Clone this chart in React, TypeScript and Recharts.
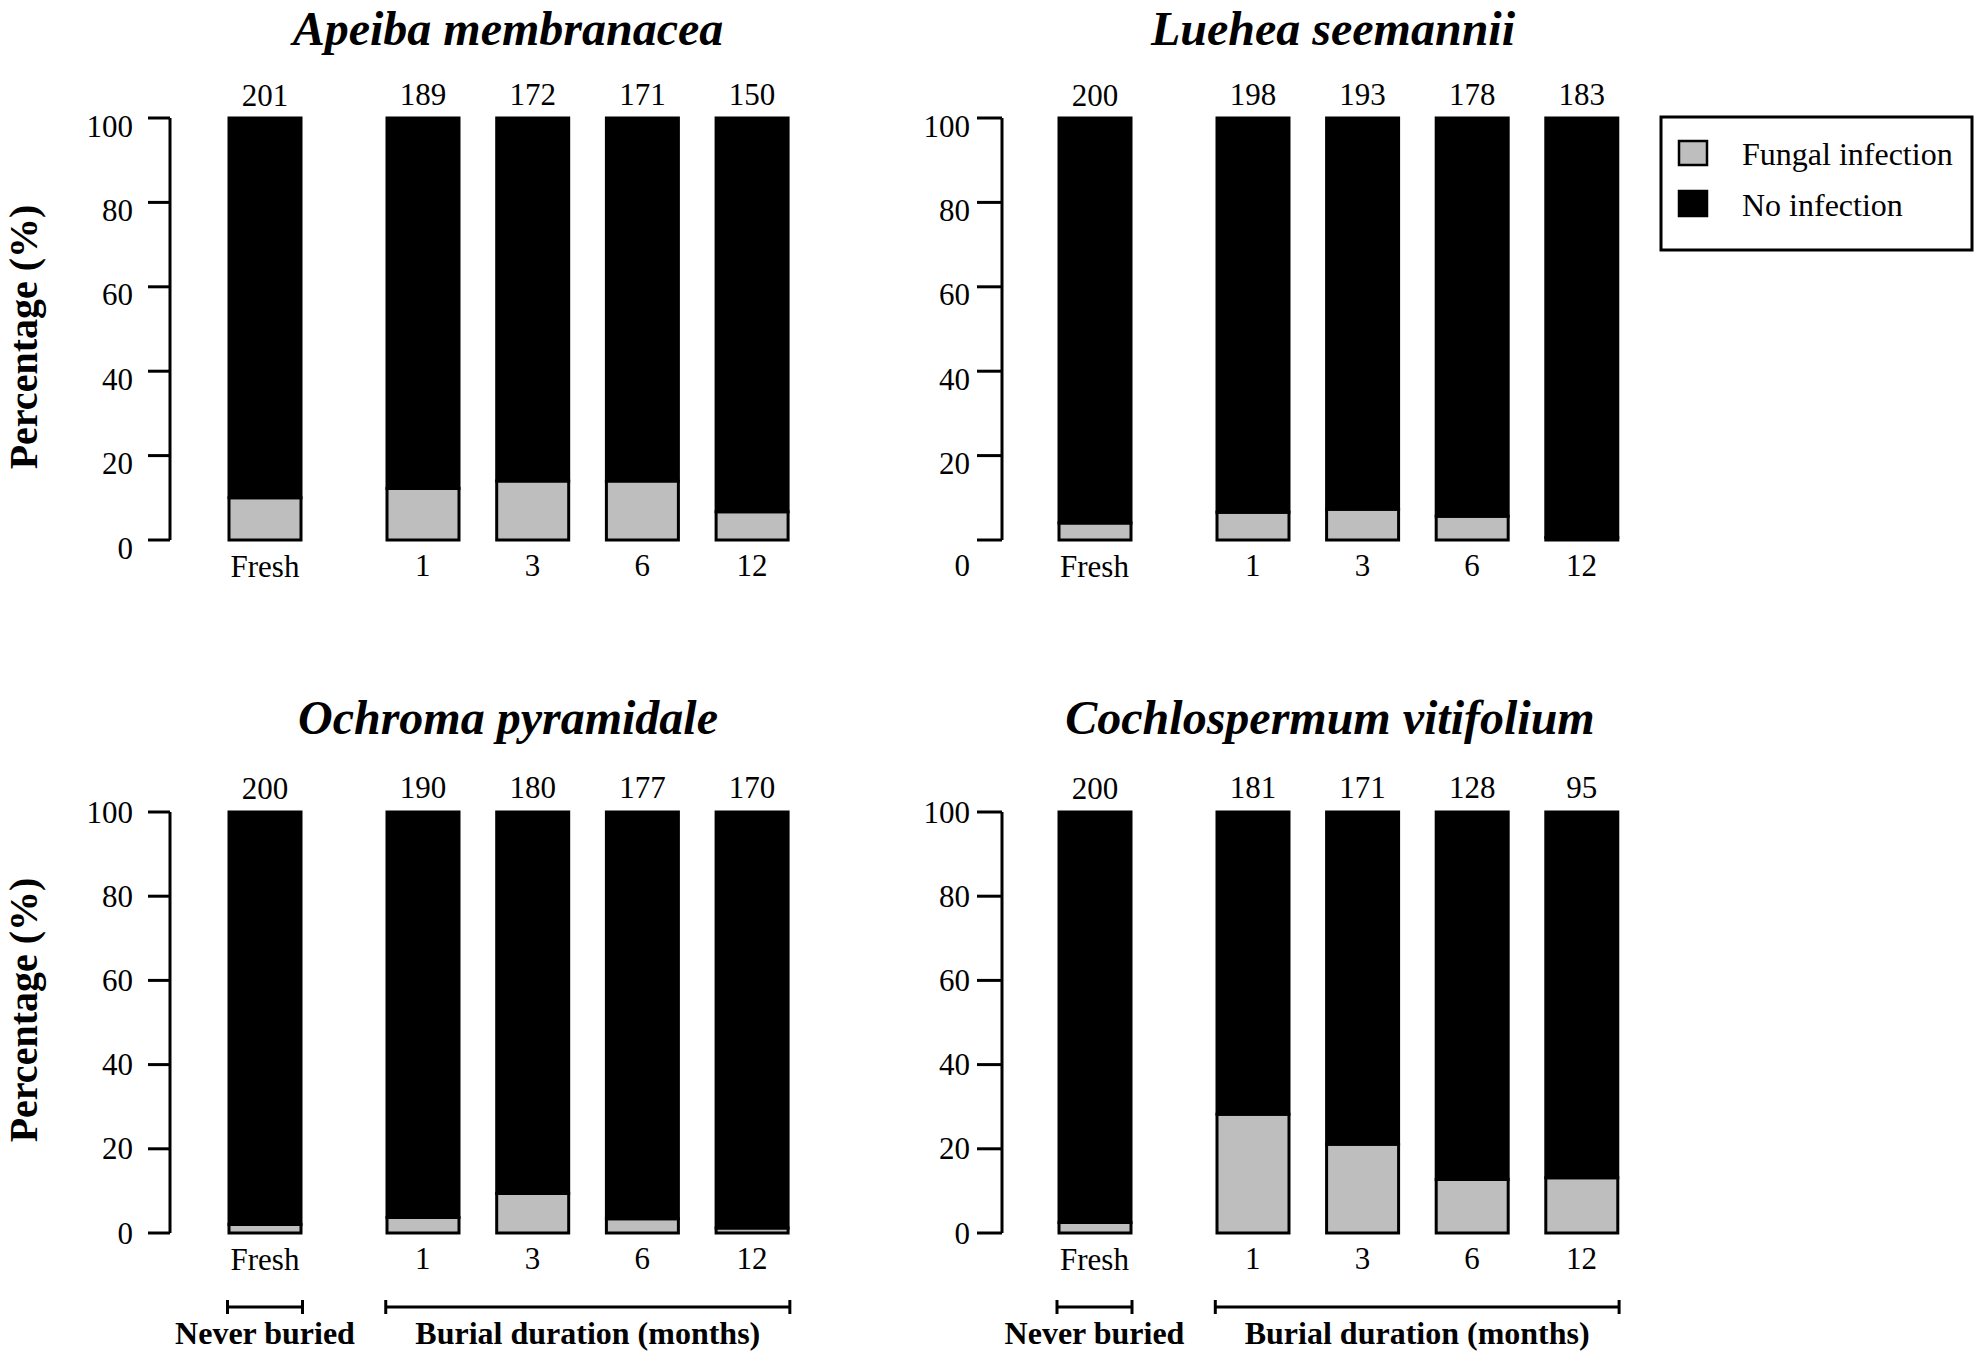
import React from "react";
import { Bar, BarChart, LabelList, XAxis, YAxis } from "recharts";

const freshCategory = ["Fresh"];
const burialMonths = ["1", "3", "6", "12"];
const yTicks = [0, 20, 40, 60, 80, 100];

// percentages, order: Fresh, 1, 3, 6, 12 months
const apeibaFungal = [10.0, 12.2, 14.0, 14.0, 6.7];
const apeibaNone = [90.0, 87.8, 86.0, 86.0, 93.3];
const apeibaN = [201, 189, 172, 171, 150];

const lueheaFungal = [4.0, 6.6, 7.3, 5.6, 0.6];
const lueheaNone = [96.0, 93.4, 92.7, 94.4, 99.4];
const lueheaN = [200, 198, 193, 178, 183];

const ochromaFungal = [2.0, 3.7, 9.4, 3.4, 1.2];
const ochromaNone = [98.0, 96.3, 90.6, 96.6, 98.8];
const ochromaN = [200, 190, 180, 177, 170];

const cochloFungal = [2.5, 28.2, 21.1, 12.7, 13.1];
const cochloNone = [97.5, 71.8, 78.9, 87.3, 86.9];
const cochloN = [200, 181, 171, 128, 95];

const FONT = '"Liberation Serif", "Times New Roman", serif';
const GRAY = "#bebebe";
const TOP = 60;
const BOTTOM = 60;
const Y_AXIS_W = 120;
const BAR_W = 72;

type Layout = {
  axisX: number;
  plotTop: number;
  plotH: number;
  freshCenter: number;
  buriedStart: number;
  band: number;
  tickSize: number;
  tickMargin: number;
  labelDy: number;
  zeroDy: number;
  countGap: number;
  titleX: number;
  titleY: number;
  yLabelY?: number;
  brackets?: boolean;
};

function YTick(props: any) {
  const { x, y, payload, labelDy, zeroDy } = props;
  const extra = payload.value === 0 ? zeroDy : 0;
  return (
    <text
      x={x}
      y={Number(y) + labelDy + extra}
      textAnchor="end"
      dominantBaseline="central"
      fontSize={31}
      fontFamily={FONT}
      fill="#000"
    >
      {payload.value}
    </text>
  );
}

function XTick(props: any) {
  const { x, y, payload } = props;
  return (
    <text
      x={x}
      y={Number(y) + 26}
      textAnchor="middle"
      dominantBaseline="central"
      fontSize={31}
      fontFamily={FONT}
      fill="#000"
    >
      {payload.value}
    </text>
  );
}

function stackedBars(countGap: number) {
  return [
    <Bar
      key="fungal"
      dataKey="fungal"
      stackId="s"
      fill={GRAY}
      stroke="#000"
      strokeWidth={3}
      barSize={BAR_W}
      isAnimationActive={false}
    />,
    <Bar
      key="none"
      dataKey="none"
      stackId="s"
      fill="#000"
      stroke="#000"
      strokeWidth={3}
      barSize={BAR_W}
      isAnimationActive={false}
    >
      <LabelList
        dataKey="n"
        content={(p: any) => (
          <text
            x={Number(p.x) + Number(p.width) / 2}
            y={Number(p.y) - countGap}
            textAnchor="middle"
            dominantBaseline="central"
            fontSize={31}
            fontFamily={FONT}
            fill="#000"
          >
            {p.value}
          </text>
        )}
      />
    </Bar>,
  ];
}

function Bracket(props: { x1: number; x2: number; y: number; label: string }) {
  const { x1, x2, y, label } = props;
  return (
    <g>
      <line x1={x1} x2={x2} y1={y} y2={y} stroke="#000" strokeWidth={3} />
      <line x1={x1} x2={x1} y1={y - 7} y2={y + 7} stroke="#000" strokeWidth={3} />
      <line x1={x2} x2={x2} y1={y - 7} y2={y + 7} stroke="#000" strokeWidth={3} />
      <text
        x={(x1 + x2) / 2}
        y={y + 37}
        textAnchor="middle"
        fontSize={32}
        fontWeight="bold"
        fontFamily={FONT}
        fill="#000"
      >
        {label}
      </text>
    </g>
  );
}

function Panel(props: {
  title: string;
  fungal: number[];
  none: number[];
  counts: number[];
  layout: Layout;
}) {
  const { title, fungal, none, counts, layout: L } = props;
  const freshRows = freshCategory.map((label, i) => ({
    label,
    fungal: fungal[i],
    none: none[i],
    n: counts[i],
  }));
  const buriedRows = burialMonths.map((label, i) => ({
    label,
    fungal: fungal[i + 1],
    none: none[i + 1],
    n: counts[i + 1],
  }));
  const freshPlotW = 2 * (L.freshCenter - L.axisX);
  const chartH = TOP + L.plotH + BOTTOM;
  const chartTop = L.plotTop - TOP;
  const bracketY = L.plotTop + L.plotH + 74;

  return (
    <>
      <div style={{ position: "absolute", left: L.axisX - Y_AXIS_W, top: chartTop }}>
        <BarChart
          width={Y_AXIS_W + freshPlotW}
          height={chartH}
          data={freshRows}
          margin={{ top: TOP, right: 0, bottom: 0, left: 0 }}
          style={{ overflow: "visible" }}
        >
          <XAxis
            dataKey="label"
            axisLine={false}
            tickLine={false}
            tickSize={0}
            tickMargin={0}
            height={BOTTOM}
            interval={0}
            tick={<XTick />}
          />
          <YAxis
            type="number"
            domain={[0, 100]}
            ticks={yTicks}
            interval={0}
            width={Y_AXIS_W}
            axisLine={{ stroke: "#000", strokeWidth: 3 }}
            tickLine={{ stroke: "#000", strokeWidth: 3 }}
            tickSize={L.tickSize}
            tickMargin={L.tickMargin}
            tick={(p: any) => <YTick {...p} labelDy={L.labelDy} zeroDy={L.zeroDy} />}
          />
          {stackedBars(L.countGap)}
        </BarChart>
      </div>
      <div style={{ position: "absolute", left: L.buriedStart, top: chartTop }}>
        <BarChart
          width={L.band * burialMonths.length}
          height={chartH}
          data={buriedRows}
          margin={{ top: TOP, right: 0, bottom: 0, left: 0 }}
          style={{ overflow: "visible" }}
        >
          <XAxis
            dataKey="label"
            axisLine={false}
            tickLine={false}
            tickSize={0}
            tickMargin={0}
            height={BOTTOM}
            interval={0}
            tick={<XTick />}
          />
          <YAxis hide type="number" domain={[0, 100]} />
          {stackedBars(L.countGap)}
        </BarChart>
      </div>
      <svg
        width={1984}
        height={1360}
        style={{ position: "absolute", left: 0, top: 0, pointerEvents: "none" }}
      >
        <text
          x={L.titleX}
          y={L.titleY}
          textAnchor="middle"
          fontSize={48}
          fontWeight="bold"
          fontStyle="italic"
          fontFamily={FONT}
          fill="#000"
        >
          {title}
        </text>
        {L.yLabelY != null ? (
          <text
            transform={`translate(37, ${L.yLabelY}) rotate(-90)`}
            textAnchor="middle"
            fontSize={40}
            fontWeight="bold"
            fontFamily={FONT}
            fill="#000"
          >
            Percentage (%)
          </text>
        ) : null}
        {L.brackets ? (
          <>
            <Bracket
              x1={L.freshCenter - BAR_W / 2 - 1.5}
              x2={L.freshCenter + BAR_W / 2 + 1.5}
              y={bracketY}
              label="Never buried"
            />
            <Bracket
              x1={L.buriedStart + L.band / 2 - BAR_W / 2 - 1.5}
              x2={L.buriedStart + L.band * (burialMonths.length - 0.5) + BAR_W / 2 + 1.5}
              y={bracketY}
              label="Burial duration (months)"
            />
          </>
        ) : null}
      </svg>
    </>
  );
}

function Legend() {
  return (
    <svg width={1984} height={1360} style={{ position: "absolute", left: 0, top: 0, pointerEvents: "none" }}>
      <rect x={1661} y={117} width={311} height={133} fill="#fff" stroke="#000" strokeWidth={3} />
      <rect x={1679} y={141} width={28} height={24} fill={GRAY} stroke="#000" strokeWidth={2.5} />
      <rect x={1679} y={191} width={28} height={25} fill="#000" stroke="#000" strokeWidth={2.5} />
      <text x={1742} y={165} fontSize={32} fontFamily={FONT} fill="#000">
        Fungal infection
      </text>
      <text x={1742} y={216} fontSize={32} fontFamily={FONT} fill="#000">
        No infection
      </text>
    </svg>
  );
}

const leftTop: Layout = {
  axisX: 170,
  plotTop: 118,
  plotH: 422,
  freshCenter: 265,
  buriedStart: 368.4,
  band: 109.7,
  tickSize: 22,
  tickMargin: 15,
  labelDy: 8,
  zeroDy: 0,
  countGap: 23,
  titleX: 508,
  titleY: 45,
  yLabelY: 337,
};

const rightTop: Layout = {
  ...leftTop,
  axisX: 1002,
  freshCenter: 1094.5,
  buriedStart: 1198,
  band: 109.6,
  tickSize: 25,
  tickMargin: 7,
  zeroDy: 17,
  titleX: 1333,
  yLabelY: undefined,
};

const leftBottom: Layout = {
  ...leftTop,
  plotTop: 812,
  plotH: 421,
  labelDy: 0,
  countGap: 24,
  titleY: 734,
  yLabelY: 1010,
  brackets: true,
};

const rightBottom: Layout = {
  ...rightTop,
  plotTop: 812,
  plotH: 421,
  labelDy: 0,
  zeroDy: 0,
  countGap: 24,
  titleX: 1330,
  titleY: 734,
  brackets: true,
};

export default function App() {
  return (
    <div style={{ position: "relative", width: 1984, height: 1360, background: "#fff", fontFamily: FONT }}>
      <style>{`body { margin: 0; }`}</style>
      <Panel title="Apeiba membranacea" fungal={apeibaFungal} none={apeibaNone} counts={apeibaN} layout={leftTop} />
      <Panel title="Luehea seemannii" fungal={lueheaFungal} none={lueheaNone} counts={lueheaN} layout={rightTop} />
      <Panel title="Ochroma pyramidale" fungal={ochromaFungal} none={ochromaNone} counts={ochromaN} layout={leftBottom} />
      <Panel
        title="Cochlospermum vitifolium"
        fungal={cochloFungal}
        none={cochloNone}
        counts={cochloN}
        layout={rightBottom}
      />
      <Legend />
    </div>
  );
}
